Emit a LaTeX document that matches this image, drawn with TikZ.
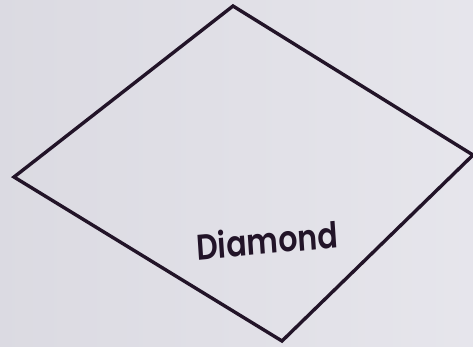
\documentclass[tikz,border=0pt]{standalone}
\usepackage{fontspec}
\setmainfont{Poppins}
\newfontfamily\lblfont{Poppins}[UprightFont=* SemiBold]
\definecolor{paper}{RGB}{224,223,231}
\definecolor{ink}{RGB}{34,20,40}
\tikzset{
  shapeline/.style={draw=ink, line width=3.4pt, line join=miter},
  lbl/.style={text=ink, font=\fontsize{32}{32}\lblfont, inner sep=0pt, xscale=0.94, yscale=1.12}
}
\begin{document}
\begin{tikzpicture}[x=1pt,y=-1pt]
\useasboundingbox (0,0) rectangle (473,346);
\shade[left color=paper!95!gray, right color=paper!80!white] (0,0) rectangle (473,346);
\coordinate (t) at (233,6);
\coordinate (l) at (14,177);
\coordinate (b) at (282,341);
\coordinate (r) at (473,155);
\draw[shapeline] (t) -- (l) -- (b) -- (r) -- cycle;
\node[lbl, rotate=4.5] (d) at (267,240) {Diamond};
\end{tikzpicture}
\end{document}
